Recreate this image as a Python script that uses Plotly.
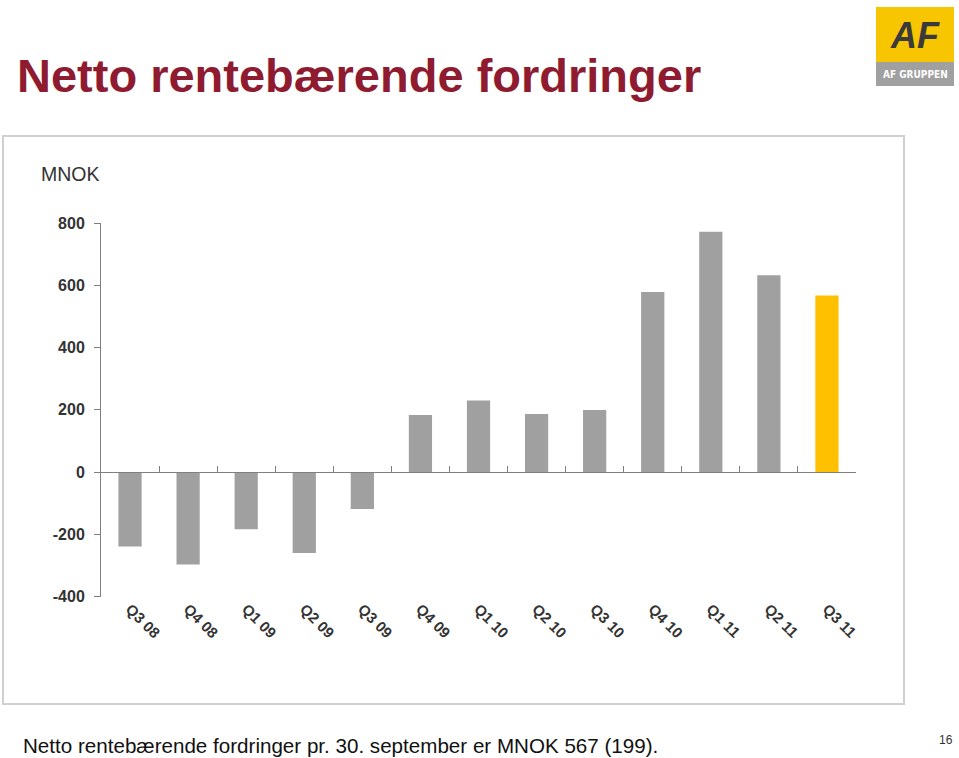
import plotly.graph_objects as go

# ---------- DATA ----------

quarters = ["Q3 08", "Q4 08", "Q1 09", "Q2 09", "Q3 09", "Q4 09", "Q1 10",
            "Q2 10", "Q3 10", "Q4 10", "Q1 11", "Q2 11", "Q3 11"]
values = [-239, -297, -184, -260, -119, 183, 230, 186, 199, 578, 772, 632, 567]
bar_colors = ["#A0A0A0"] * 12 + ["#FFC000"]

y_ticks = [-400, -200, 0, 200, 400, 600, 800]
y_ticktext = ["-400", "-200", "0", "200", "400", "600", "800"]

title_text = "Netto rentebærende fordringer"
caption_text = "Netto rentebærende fordringer pr. 30. september er MNOK 567 (199)."
unit_text = "MNOK"
page_no = "16"

# ---------- PAGE GEOMETRY ----------

W_PAGE, H_PAGE = 959, 758
L, R, T, B = 101, 856, 223, 596.5


def px(x):
    return x / W_PAGE


def py(y):
    return 1 - y / H_PAGE


FONT = "Liberation Sans, Arial, sans-serif"

fig = go.Figure()

fig.add_bar(
    x=list(range(len(quarters))),
    y=values,
    marker=dict(color=bar_colors, line=dict(width=0)),
    width=0.4,
    hoverinfo="x+y",
)

fig.update_layout(
    width=W_PAGE,
    height=H_PAGE,
    margin=dict(l=0, r=0, t=0, b=0, autoexpand=False),
    plot_bgcolor="white",
    paper_bgcolor="white",
    showlegend=False,
    font=dict(family=FONT, color="#333333"),
    xaxis=dict(
        domain=[px(L), px(R)],
        range=[-0.5, len(quarters) - 0.5],
        tickmode="array",
        tickvals=list(range(len(quarters))),
        ticktext=quarters,
        tickangle=45,
        tickfont=dict(size=15, color="#333333", weight="bold"),
        showgrid=False,
        zeroline=False,
        showline=False,
        ticks="",
        automargin=False,
    ),
    xaxis2=dict(
        domain=[px(L), px(R)],
        overlaying="x",
        anchor="free",
        position=py(472),
        range=[-0.5, len(quarters) - 0.5],
        tickmode="array",
        tickvals=[i + 0.5 for i in range(len(quarters) - 1)],
        showticklabels=False,
        ticks="inside",
        ticklen=6,
        tickcolor="#808080",
        showline=True,
        linecolor="#808080",
        linewidth=1,
        showgrid=False,
        zeroline=False,
    ),
    yaxis=dict(
        domain=[py(B), py(T)],
        range=[-400, 800],
        tickmode="array",
        tickvals=y_ticks,
        ticktext=y_ticktext,
        tickfont=dict(size=16, color="#333333", weight="bold"),
        ticks="outside",
        ticklen=6,
        tickcolor="#808080",
        ticklabelstandoff=6,
        showline=True,
        linecolor="#808080",
        linewidth=1,
        showgrid=False,
        zeroline=False,
        automargin=False,
    ),
)

# dummy trace so that xaxis2 is drawn
fig.add_scatter(x=[0], y=[0], xaxis="x2", mode="markers",
                marker=dict(opacity=0), hoverinfo="skip")

# frame around chart
fig.add_shape(type="rect", xref="paper", yref="paper",
              x0=px(3), x1=px(904), y0=py(704), y1=py(136),
              line=dict(color="#D0D0D0", width=2), layer="below")

# logo
fig.add_shape(type="rect", xref="paper", yref="paper",
              x0=px(876), x1=px(954), y0=py(62), y1=py(7),
              line=dict(width=0), fillcolor="#F7C600")
fig.add_shape(type="rect", xref="paper", yref="paper",
              x0=px(876), x1=px(954), y0=py(86), y1=py(62),
              line=dict(width=0), fillcolor="#A0A0A0")
fig.add_annotation(text="<i><b>AF</b></i>", xref="paper", yref="paper",
                   x=px(915), y=py(35), xanchor="center", yanchor="middle",
                   showarrow=False,
                   font=dict(family=FONT, size=36, color="#3A3A3A"))
fig.add_annotation(text="<b>AF GRUPPEN</b>", xref="paper", yref="paper",
                   x=px(915), y=py(74), xanchor="center", yanchor="middle",
                   showarrow=False,
                   font=dict(family="DejaVu Sans Condensed, Liberation Sans", size=10, color="white"))

# title
fig.add_annotation(text="<b>" + title_text + "</b>", xref="paper", yref="paper",
                   x=px(15), y=py(76), xanchor="left", yanchor="middle",
                   showarrow=False,
                   font=dict(family=FONT, size=47, color="#8E1B30"))

# unit label
fig.add_annotation(text=unit_text, xref="paper", yref="paper",
                   x=px(39), y=py(174), xanchor="left", yanchor="middle",
                   showarrow=False,
                   font=dict(family=FONT, size=19.5, color="#333333"))

# caption
fig.add_annotation(text=caption_text, xref="paper", yref="paper",
                   x=px(21), y=py(745), xanchor="left", yanchor="middle",
                   showarrow=False,
                   font=dict(family=FONT, size=20.6, color="#111111"))

# page number
fig.add_annotation(text=page_no, xref="paper", yref="paper",
                   x=px(955), y=py(740), xanchor="right", yanchor="middle",
                   showarrow=False,
                   font=dict(family=FONT, size=12, color="#333333"))

fig.write_html("out.html", config={"displayModeBar": False},
               post_script="document.body.style.margin='0';document.body.style.overflow='hidden';")
